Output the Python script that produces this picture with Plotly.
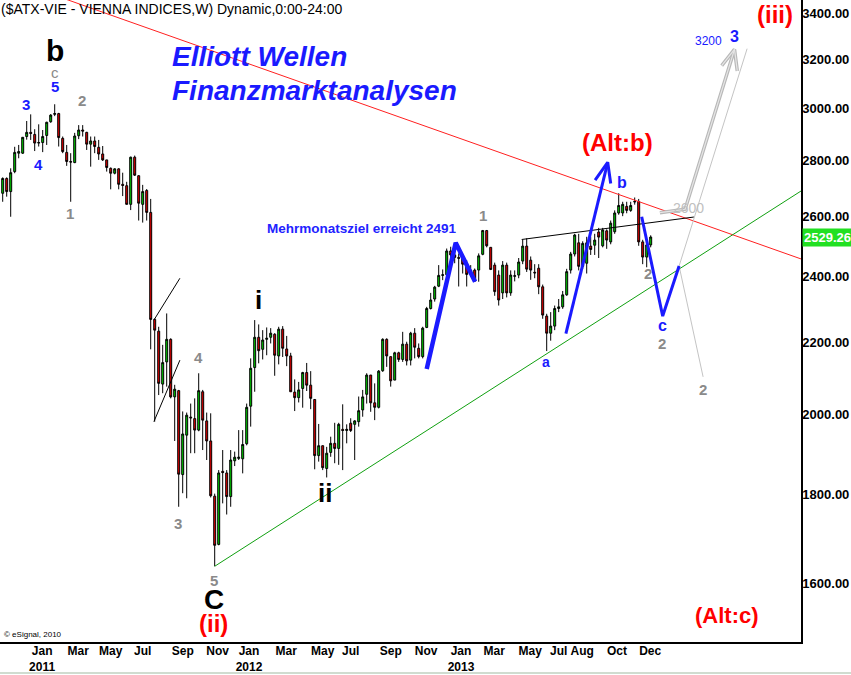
import math
import pandas as pd
import plotly.graph_objects as go

# ---------------- data ----------------
start_date = "2010-11-19"
n_weeks = 163
dates = pd.date_range(start=start_date, periods=n_weeks, freq="7D")

opens = [2680, 2733, 2686, 2758, 2826, 2826, 2889, 2905, 2897, 2864,
         2866, 2893, 2946, 2975, 2978, 2882, 2829, 2795, 2791, 2892,
         2914, 2905, 2860, 2872, 2848, 2823, 2801, 2770, 2752, 2768,
         2712, 2707, 2641, 2811, 2743, 2641, 2690, 2613, 2268, 2233,
         2082, 2144, 2209, 2047, 2064, 1847, 1946, 1993, 1989, 1959,
         2061, 1983, 1931, 1795, 1684, 1855, 1851, 1794, 1881, 1887,
         1886, 1924, 2022, 2128, 2215, 2180, 2209, 2215, 2224, 2161,
         2239, 2181, 2161, 2060, 2045, 2070, 2114, 2079, 2040, 1894,
         1919, 1862, 1902, 1925, 1912, 1961, 1958, 1977, 1974, 1981,
         2012, 2054, 2107, 2031, 2019, 2119, 2209, 2159, 2093, 2170,
         2151, 2195, 2149, 2227, 2183, 2159, 2244, 2301, 2330, 2370,
         2404, 2406, 2483, 2470, 2462, 2459, 2440, 2407, 2421, 2421,
         2472, 2551, 2495, 2437, 2405, 2349, 2437, 2349, 2401, 2405,
         2450, 2499, 2453, 2414, 2427, 2368, 2278, 2227, 2248, 2301,
         2306, 2343, 2421, 2473, 2510, 2433, 2443, 2499, 2502, 2546,
         2500, 2550, 2513, 2547, 2611, 2611, 2634, 2620, 2649, 2651,
         2513, 2463, 2503]
highs = [2737, 2737, 2770, 2850, 2857, 2887, 2949, 2975, 2917, 2936,
         2914, 2946, 2976, 3015, 2981, 2889, 2857, 2826, 2903, 2933,
         2933, 2907, 2889, 2889, 2876, 2853, 2801, 2773, 2770, 2770,
         2754, 2721, 2813, 2817, 2745, 2710, 2695, 2660, 2271, 2246,
         2193, 2286, 2212, 2080, 2066, 2008, 2005, 2029, 2043, 2112,
         2066, 2005, 2003, 1801, 1858, 1908, 1858, 1908, 1904, 1959,
         1959, 2029, 2154, 2266, 2253, 2236, 2244, 2242, 2227, 2246,
         2248, 2219, 2170, 2095, 2088, 2116, 2141, 2118, 2040, 1975,
         1919, 1916, 1942, 1978, 1978, 2027, 1974, 1990, 1985, 2048,
         2066, 2112, 2107, 2084, 2121, 2212, 2212, 2159, 2173, 2173,
         2231, 2202, 2231, 2242, 2197, 2246, 2306, 2349, 2371, 2437,
         2423, 2491, 2497, 2508, 2475, 2464, 2453, 2437, 2426, 2475,
         2553, 2553, 2495, 2445, 2420, 2450, 2445, 2420, 2420, 2460,
         2520, 2525, 2465, 2440, 2440, 2375, 2285, 2290, 2310, 2330,
         2355, 2425, 2480, 2540, 2540, 2515, 2530, 2530, 2540, 2560,
         2560, 2555, 2585, 2620, 2680, 2650, 2650, 2650, 2665, 2660,
         2520, 2515, 2535]
lows = [2650, 2668, 2598, 2752, 2807, 2823, 2877, 2876, 2834, 2851,
        2830, 2857, 2942, 2968, 2851, 2826, 2779, 2650, 2789, 2879,
        2889, 2838, 2776, 2826, 2801, 2797, 2758, 2694, 2748, 2694,
        2670, 2641, 2621, 2742, 2585, 2578, 2585, 2180, 1981, 2052,
        2057, 2075, 2043, 1931, 1770, 1802, 1790, 1900, 1900, 1956,
        1908, 1883, 1792, 1636, 1682, 1778, 1752, 1770, 1868, 1883,
        1850, 1920, 1968, 2061, 2140, 2151, 2163, 2197, 2105, 2137,
        2158, 2132, 2061, 2009, 2032, 2018, 2063, 2014, 1860, 1879,
        1858, 1840, 1891, 1875, 1871, 1858, 1925, 1954, 1883, 1968,
        1994, 2029, 2007, 1985, 2016, 2116, 2130, 2075, 2093, 2144,
        2144, 2134, 2134, 2154, 2154, 2154, 2242, 2298, 2322, 2367,
        2389, 2404, 2432, 2443, 2369, 2410, 2369, 2400, 2384, 2384,
        2469, 2495, 2421, 2340, 2310, 2330, 2335, 2340, 2385, 2395,
        2440, 2415, 2390, 2395, 2345, 2270, 2175, 2205, 2236, 2290,
        2300, 2340, 2410, 2465, 2420, 2425, 2410, 2470, 2470, 2460,
        2495, 2490, 2505, 2540, 2605, 2600, 2610, 2615, 2640, 2500,
        2440, 2430, 2495]
closes = [2733, 2686, 2754, 2829, 2832, 2886, 2905, 2901, 2864, 2866,
          2889, 2944, 2972, 2978, 2885, 2832, 2795, 2793, 2891, 2914,
          2910, 2860, 2872, 2851, 2823, 2801, 2773, 2752, 2768, 2712,
          2708, 2641, 2811, 2745, 2645, 2686, 2613, 2268, 2236, 2084,
          2142, 2209, 2047, 2068, 1848, 1949, 1998, 1991, 1959, 2064,
          1985, 1931, 1796, 1682, 1851, 1852, 1794, 1883, 1890, 1890,
          1922, 2019, 2126, 2215, 2176, 2207, 2212, 2227, 2163, 2239,
          2183, 2161, 2061, 2045, 2066, 2114, 2079, 2043, 1894, 1919,
          1864, 1900, 1925, 1912, 1974, 1958, 1961, 1958, 1983, 2010,
          2047, 2107, 2031, 2019, 2118, 2209, 2161, 2091, 2170, 2151,
          2195, 2147, 2227, 2186, 2159, 2242, 2301, 2327, 2367, 2404,
          2406, 2483, 2470, 2462, 2459, 2440, 2407, 2421, 2386, 2467,
          2551, 2500, 2423, 2353, 2327, 2437, 2349, 2405, 2403, 2447,
          2499, 2424, 2421, 2412, 2368, 2281, 2227, 2248, 2301, 2306,
          2343, 2416, 2473, 2536, 2433, 2508, 2510, 2488, 2519, 2529,
          2553, 2519, 2576, 2611, 2637, 2641, 2620, 2637, 2651, 2513,
          2463, 2503, 2529.26]

last_price = 2529.26

y_ticks = [1600, 1800, 2000, 2200, 2400, 2600, 2800, 3000, 3200, 3400]
x_tick_dates = ["2011-01-27", "2011-03-31", "2011-05-27", "2011-07-22", "2011-09-30",
                "2011-11-30", "2012-01-24", "2012-03-29", "2012-06-01", "2012-07-20",
                "2012-09-28", "2012-11-29", "2013-01-29", "2013-03-28", "2013-05-30",
                "2013-07-19", "2013-08-29", "2013-10-29", "2013-12-26"]
x_tick_text = ["Jan<br>2011", "Mar", "May", "Jul", "Sep", "Nov", "Jan<br>2012", "Mar",
               "May", "Jul", "Sep", "Nov", "Jan<br>2013", "Mar", "May", "Jul", "Aug",
               "Oct", "Dec"]

# analysis lines: (week index, price)
red_trend_w = [-0.675, 199.575]
red_trend_p = [3573, 2457]
green_trend_w = [53, 199.575]
green_trend_p = [1636, 2688]
black_trend_w = [129.75, 172.8]
black_trend_p = [2521, 2597]
wedge_a_w = [37.8, 44.3]
wedge_a_p = [2266, 2395]
wedge_b_w = [37.8, 44.3]
wedge_b_p = [1981, 2149]
blue_target_w = [106, 113.25, 118.1]
blue_target_p = [2124, 2510, 2384]
blue_arrow_w = [140.8, 151.25, None, 148.1, 151.25, 152.0]
blue_arrow_p = [2226, 2792, None, 2727, 2792, 2715]
blue_c_w = [159.75, 165.0, 169.1]
blue_c_p = [2598, 2278, 2434]
gray_arrow_w = [164.3, 170.6, 182.95, None, 179.75, 182.95, 183.65]
gray_arrow_p = [2612, 2624, 3242, None, 3173, 3242, 3151]
gray_thin_w = [175.1, 169.1, 186.1]
gray_thin_p = [2102, 2434, 3245]

FONT = "Liberation Sans, Arial, sans-serif"
BLUE = "#1a1aff"
GRAY = "#8a8a8a"
RED = "#ff0000"

def wk(i):
    if i is None:
        return None
    return pd.Timestamp(start_date) + pd.Timedelta(days=7 * i)

fig = go.Figure()
fig.add_trace(go.Candlestick(
    x=dates, open=opens, high=highs, low=lows, close=closes,
    increasing=dict(line=dict(color="black", width=1), fillcolor="#00d000"),
    decreasing=dict(line=dict(color="black", width=1), fillcolor="#e80000"),
    whiskerwidth=0, showlegend=False, hoverinfo="skip"))

def add_line(ws, ps, color, width, dash=None):
    fig.add_trace(go.Scatter(x=[wk(w) for w in ws], y=ps, mode="lines",
                             line=dict(color=color, width=width, dash=dash),
                             showlegend=False, hoverinfo="skip", connectgaps=False))

add_line(red_trend_w, red_trend_p, "#ff2020", 1)
add_line(green_trend_w, green_trend_p, "#10a010", 1)
add_line(black_trend_w, black_trend_p, "black", 1)
add_line(wedge_a_w, wedge_a_p, "black", 1)
add_line(wedge_b_w, wedge_b_p, "black", 1)
add_line(gray_thin_w, gray_thin_p, "#c4c4c4", 1)
add_line(gray_arrow_w, gray_arrow_p, "#b8b8b8", 3.5)
add_line(gray_arrow_w, gray_arrow_p, "#e6e6e6", 1.2)
add_line(blue_target_w, blue_target_p, BLUE, 4.5)
add_line(blue_arrow_w, blue_arrow_p, BLUE, 3)
add_line(blue_c_w, blue_c_p, BLUE, 3)

PW, PH = 801, 642

def lab(text, px, py, size, color, bold=True, italic=False, anchor="center"):
    t = text
    if bold:
        t = "<b>" + t + "</b>"
    if italic:
        t = "<i>" + t + "</i>"
    return dict(text=t, x=px / PW, y=1 - py / PH, xref="paper", yref="paper",
                showarrow=False, xanchor=anchor, yanchor="middle",
                font=dict(size=size, color=color, family=FONT))

annotations = [
    lab("($ATX-VIE - VIENNA INDICES,W) Dynamic,0:00-24:00", -1, 9, 14, "black", bold=False, anchor="left"),
    lab("Elliott Wellen", 170, 57, 28, BLUE, italic=True, anchor="left"),
    lab("Finanzmarktanalysen", 170, 90, 28, BLUE, italic=True, anchor="left"),
    lab("Mehrmonatsziel erreicht 2491", 265, 228, 13.5, "#2222ff", anchor="left"),
    lab("b", 55, 51, 30, "black"),
    lab("c", 55, 72, 15, GRAY, bold=False),
    lab("5", 55, 87, 15, BLUE),
    lab("3", 26, 105, 15, BLUE),
    lab("4", 38, 164, 15, BLUE),
    lab("2", 82, 101, 15, GRAY),
    lab("1", 70, 214, 15, GRAY),
    lab("4", 198, 358, 15, GRAY),
    lab("3", 178, 523, 15, GRAY),
    lab("5", 214, 580, 15, GRAY),
    lab("C", 214, 599, 28, "black"),
    lab("(ii)", 213, 623, 24, RED),
    lab("i", 258, 300, 26, "black"),
    lab("ii", 325, 493, 26, "black"),
    lab("1", 483, 215, 15, GRAY),
    lab("a", 546, 362, 14, BLUE),
    lab("b", 622, 183, 16, BLUE),
    lab("(Alt:b)", 617, 142, 24, RED),
    lab("2", 648, 273, 15, GRAY),
    lab("c", 662, 326, 16, BLUE),
    lab("2", 662, 343, 15, GRAY),
    lab("2", 703, 389, 15, GRAY),
    lab("2600", 688, 208, 14, "#c0c0c0", bold=False),
    lab("3200", 708, 41, 12, BLUE, bold=False),
    lab("3", 734, 36, 16, BLUE),
    lab("(iii)", 775, 15, 24, RED),
    lab("(Alt:c)", 727, 615, 22, RED),
    lab("\u00a9 eSignal, 2010", 2, 634, 8, "black", bold=False, anchor="left"),
]
annotations.append(dict(
    text="<b>%.2f</b>" % last_price, x=802 / PW, y=1 - 237 / PH, xref="paper", yref="paper",
    showarrow=False, xanchor="left", yanchor="middle", bgcolor="#22e022", borderpad=1,
    font=dict(size=13, color="white", family=FONT)))

fig.update_layout(
    width=851, height=675,
    margin=dict(l=0, r=50, t=0, b=33, autoexpand=False),
    paper_bgcolor="white", plot_bgcolor="white",
    font=dict(family=FONT, color="black"),
    showlegend=False,
    annotations=annotations,
    xaxis=dict(
        type="date", range=[wk(-0.675), wk(199.575)],
        rangeslider=dict(visible=False), automargin=False,
        showgrid=False, zeroline=False,
        showline=True, linecolor="black", linewidth=2, mirror=False,
        ticks="", tickangle=0, ticklabelstandoff=-3,
        tickvals=x_tick_dates, ticktext=x_tick_text,
        tickfont=dict(size=12, color="black", family=FONT, weight="bold"),
    ),
    yaxis=dict(
        type="log", side="right", automargin=False,
        range=[math.log10(1480), math.log10(3461)],
        showgrid=False, zeroline=False,
        showline=True, linecolor="black", linewidth=1.5,
        ticks="", ticklabelstandoff=-3,
        tickvals=y_ticks, ticktext=["%.2f" % v for v in y_ticks],
        tickfont=dict(size=13, color="black", family=FONT, weight="bold"),
    ),
)
fig.add_shape(type="line", xref="paper", yref="paper", x0=0, x1=851 / PW,
              y0=-(673 - PH) / PH, y1=-(673 - PH) / PH, line=dict(color="#d0dcd0", width=2))

fig.write_html("out.html", config={"displayModeBar": False},
               post_script="document.body.style.margin='0';document.body.style.overflow='hidden';")
